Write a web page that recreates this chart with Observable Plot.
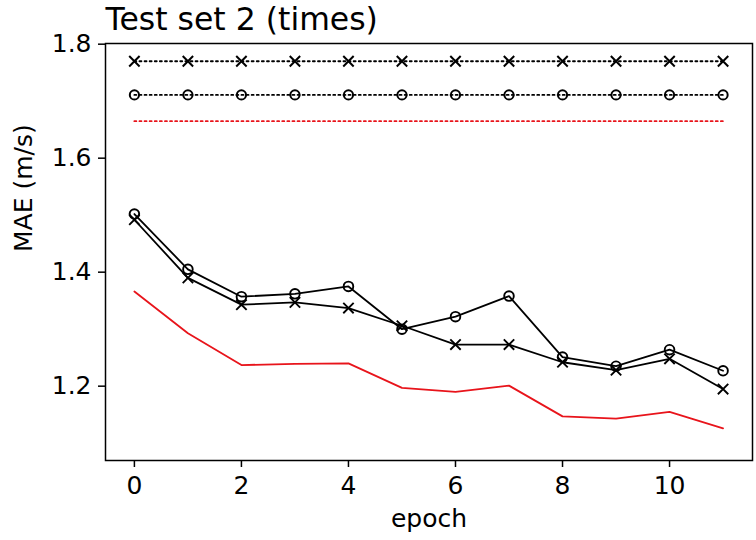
<!DOCTYPE html>
<html>
<head>
<meta charset="utf-8">
<script src="https://cdn.jsdelivr.net/npm/d3@7"></script>
<script src="https://cdn.jsdelivr.net/npm/@observablehq/plot@0.6"></script>
<style>
  html, body { margin: 0; padding: 0; background: white; }
</style>
</head>
<body>
<div id="chart"></div>
<script>
const epochs = [0, 1, 2, 3, 4, 5, 6, 7, 8, 9, 10, 11];
const maeCircle = [1.502, 1.405, 1.357, 1.362, 1.375, 1.300, 1.322, 1.358, 1.251, 1.235, 1.264, 1.227];
const maeCross  = [1.492, 1.390, 1.343, 1.347, 1.337, 1.306, 1.273, 1.273, 1.242, 1.228, 1.248, 1.195];
const maeRed    = [1.366, 1.293, 1.237, 1.239, 1.240, 1.197, 1.190, 1.201, 1.147, 1.143, 1.155, 1.126];
const baseCross  = 1.770;
const baseCircle = 1.711;
const baseRed    = 1.665;
const xTicks = [0, 2, 4, 6, 8, 10];
const yTicks = [1.2, 1.4, 1.6, 1.8];
const titleText = "Test set 2 (times)";
const xLabel = "epoch";
const yLabel = "MAE (m/s)";

const rows = (vals) => epochs.map((e, i) => ({epoch: e, mae: vals[i]}));
const constRows = (v) => epochs.map(e => ({epoch: e, mae: v}));

const circleRows = rows(maeCircle);
const crossRows = rows(maeCross);
const redRows = rows(maeRed);
const baseCrossRows = constRows(baseCross);
const baseCircleRows = constRows(baseCircle);
const baseRedRows = constRows(baseRed);

const RED = "#e8141b";
const dash = "1.9,3.2";

const chart = Plot.plot({
  width: 756,
  height: 540,
  marginLeft: 105,
  marginRight: 4,
  marginTop: 43,
  marginBottom: 80,
  x: {domain: [-0.54, 11.55]},
  y: {domain: [1.0696, 1.8012]},
  style: {fontFamily: "'DejaVu Sans', sans-serif", fontSize: "25px", color: "black", background: "white"},
  marks: [
    // dotted baselines
    Plot.line(baseCrossRows, {x: "epoch", y: "mae", stroke: "black", strokeWidth: 1.9, strokeDasharray: dash}),
    Plot.dot(baseCrossRows, {x: "epoch", y: "mae", symbol: "times", r: 4.8, stroke: "black", strokeWidth: 2}),
    Plot.line(baseCircleRows, {x: "epoch", y: "mae", stroke: "black", strokeWidth: 1.9, strokeDasharray: dash}),
    Plot.dot(baseCircleRows, {x: "epoch", y: "mae", symbol: "circle", r: 4.6, fill: "none", stroke: "black", strokeWidth: 2}),
    Plot.line(baseRedRows, {x: "epoch", y: "mae", stroke: RED, strokeWidth: 1.9, strokeDasharray: dash}),
    // solid series
    Plot.line(circleRows, {x: "epoch", y: "mae", stroke: "black", strokeWidth: 1.8}),
    Plot.dot(circleRows, {x: "epoch", y: "mae", symbol: "circle", r: 4.8, fill: "none", stroke: "black", strokeWidth: 1.9}),
    Plot.line(crossRows, {x: "epoch", y: "mae", stroke: "black", strokeWidth: 1.8}),
    Plot.dot(crossRows, {x: "epoch", y: "mae", symbol: "times", r: 4.8, stroke: "black", strokeWidth: 1.9}),
    Plot.line(redRows, {x: "epoch", y: "mae", stroke: RED, strokeWidth: 1.8}),
    // frame and axes
    Plot.frame({stroke: "black", strokeWidth: 1.5}),
    Plot.axisX({ticks: xTicks, tickSize: 7, tickPadding: 9, label: null, fontSize: 25, strokeWidth: 1.5}),
    Plot.axisY({ticks: yTicks, tickFormat: ".1f", tickSize: 7, tickPadding: 7, label: null, fontSize: 25, strokeWidth: 1.5}),
    // labels
    Plot.text([titleText], {text: d => d, frameAnchor: "top-left", textAnchor: "start", lineAnchor: "bottom", dy: -14, fontSize: 31.5}),
    Plot.text([xLabel], {text: d => d, frameAnchor: "bottom", lineAnchor: "bottom", dy: 66, fontSize: 25}),
    Plot.text([yLabel], {text: d => d, frameAnchor: "left", lineAnchor: "bottom", rotate: -90, dx: -74, fontSize: 25})
  ]
});
document.getElementById("chart").appendChild(chart);
</script>
</body>
</html>
